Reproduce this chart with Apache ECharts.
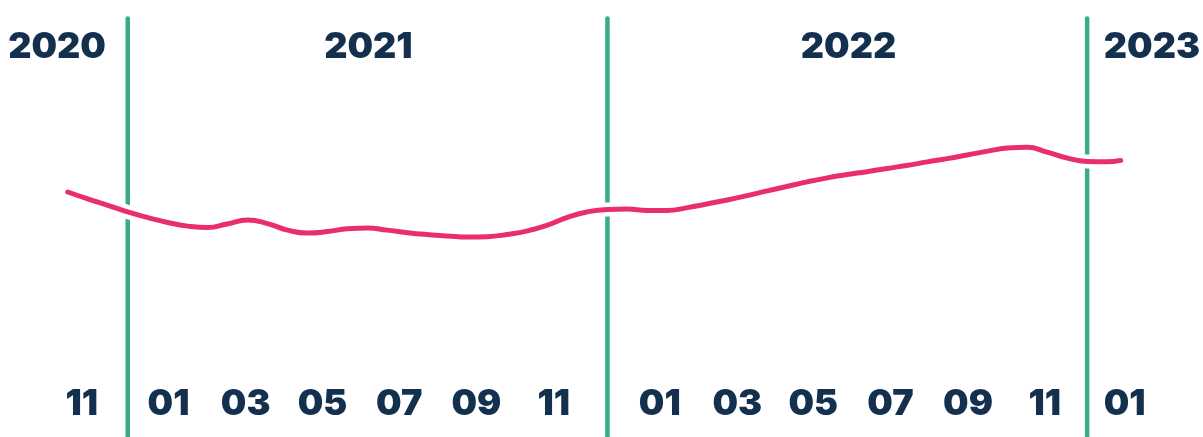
<!DOCTYPE html>
<html>
<head>
<meta charset="utf-8">
<script src="https://cdn.jsdelivr.net/npm/echarts@6/dist/echarts.min.js"></script>
<style>
html,body{margin:0;padding:0;background:#ffffff;}
#chart{width:1203px;height:437px;}
</style>
</head>
<body>
<div id="chart"></div>
<script>
// ---- data ----
const dates = [
  '2020-11-16','2020-12-01','2020-12-16','2021-01-01','2021-01-16','2021-02-01','2021-02-15',
  '2021-03-01','2021-03-16','2021-04-01','2021-04-16','2021-05-01','2021-05-16','2021-06-01',
  '2021-06-16','2021-07-01','2021-07-16','2021-08-01','2021-08-16','2021-09-01','2021-09-16',
  '2021-10-01','2021-10-16','2021-11-01','2021-11-16','2021-12-01','2021-12-16','2022-01-01',
  '2022-01-16','2022-02-01','2022-02-15','2022-03-01','2022-03-16','2022-04-01','2022-04-16',
  '2022-05-01','2022-05-16','2022-06-01','2022-06-16','2022-07-01','2022-07-16','2022-08-01',
  '2022-08-16','2022-09-01','2022-09-16','2022-10-01','2022-10-16','2022-11-01','2022-11-16',
  '2022-12-01','2022-12-16','2023-01-01','2023-01-16','2023-01-27'
];
const values = [
  57.3,55.4,53.7,51.8,50.3,48.9,47.9,
  47.5,48.5,49.6,48.6,46.8,46.0,46.4,
  47.2,47.4,46.8,46.1,45.6,45.2,44.9,
  45.0,45.6,46.6,48.2,50.3,51.8,52.5,
  52.6,52.2,52.2,53.0,54.0,55.1,56.3,
  57.6,58.8,60.1,61.2,62.1,62.9,63.8,
  64.6,65.6,66.5,67.5,68.5,69.4,69.6,
  68.3,66.7,65.7,65.6,66.0
];
const yearBreaks = ['2021-01-01','2022-01-01','2023-01-01'];
const monthTickLabels = ['11','01','03','05','07','09','11','01','03','05','07','09','11','01'];
const monthTickAt = [0.85,3.02,4.95,6.87,8.79,10.72,12.66,15.31,17.25,19.15,21.08,23.02,24.94,26.94];
const yearLabels = ['2020','2021','2022','2023'];
const yearLabelAt = [0.23,8.02,20.03,27.62];

// months since 2020-11-01
function toMonths(s){
  const p = s.split('-').map(Number);
  const dim = new Date(p[0], p[1], 0).getDate();
  return (p[0]-2020)*12 + (p[1]-11) + (p[2]-1)/dim;
}
function pick(arrAt, arrLab, v){
  let best = 0, bd = Infinity;
  arrAt.forEach((a,i)=>{ const d = Math.abs(a-v); if(d<bd){bd=d;best=i;} });
  return arrLab[best];
}

const NAVY = '#14304f', PINK = '#e92f6b', GREEN = '#37ab8b';
const FONT = 'Inter';
const lineData = dates.map((d,i)=>[toMonths(d), values[i]]);
const breakData = yearBreaks.map(d=>[toMonths(d), 0]);

const chart = echarts.init(document.getElementById('chart'), null, {renderer:'canvas'});
chart.setOption({
  animation:false,
  backgroundColor:'#ffffff',
  grid:{left:47.8, right:33.5, top:37, bottom:37, containLabel:false},
  xAxis:[{
    type:'value', min:0, max:28, position:'bottom',
    axisLine:{show:false}, axisTick:{show:false}, splitLine:{show:false},
    axisLabel:{
      customValues: monthTickAt,
      formatter:v=>pick(monthTickAt, monthTickLabels, v),
      color:NAVY, fontFamily:FONT, fontWeight:900, fontSize:36,
      verticalAlign:'middle', margin:4, hideOverlap:false
    }
  },{
    type:'value', min:0, max:28, position:'top',
    axisLine:{show:false}, axisTick:{show:false}, splitLine:{show:false},
    axisLabel:{
      customValues: yearLabelAt,
      formatter:v=>pick(yearLabelAt, yearLabels, v),
      color:NAVY, fontFamily:FONT, fontWeight:900, fontSize:36,
      verticalAlign:'middle', margin:-10.5, hideOverlap:false
    }
  }],
  yAxis:{type:'value', min:0, max:100, show:false},
  series:[{
    type:'custom', z:1, xAxisIndex:0, data:breakData, silent:true,
    renderItem:(params, api)=>{
      const x = api.coord([api.value(0), 0])[0];
      return {type:'line', shape:{x1:x, y1:18.5, x2:x, y2:api.getHeight()+10},
        style:{stroke:GREEN, lineWidth:4.5, lineCap:'round'}};
    }
  },{
    type:'line', z:2, data:lineData, smooth:0.5, showSymbol:false, silent:true,
    lineStyle:{color:'#ffffff', width:14, cap:'round'}
  },{
    type:'line', z:3, data:lineData, smooth:0.5, showSymbol:false, silent:true,
    lineStyle:{color:PINK, width:5, cap:'round'}
  }]
});
</script>
</body>
</html>
